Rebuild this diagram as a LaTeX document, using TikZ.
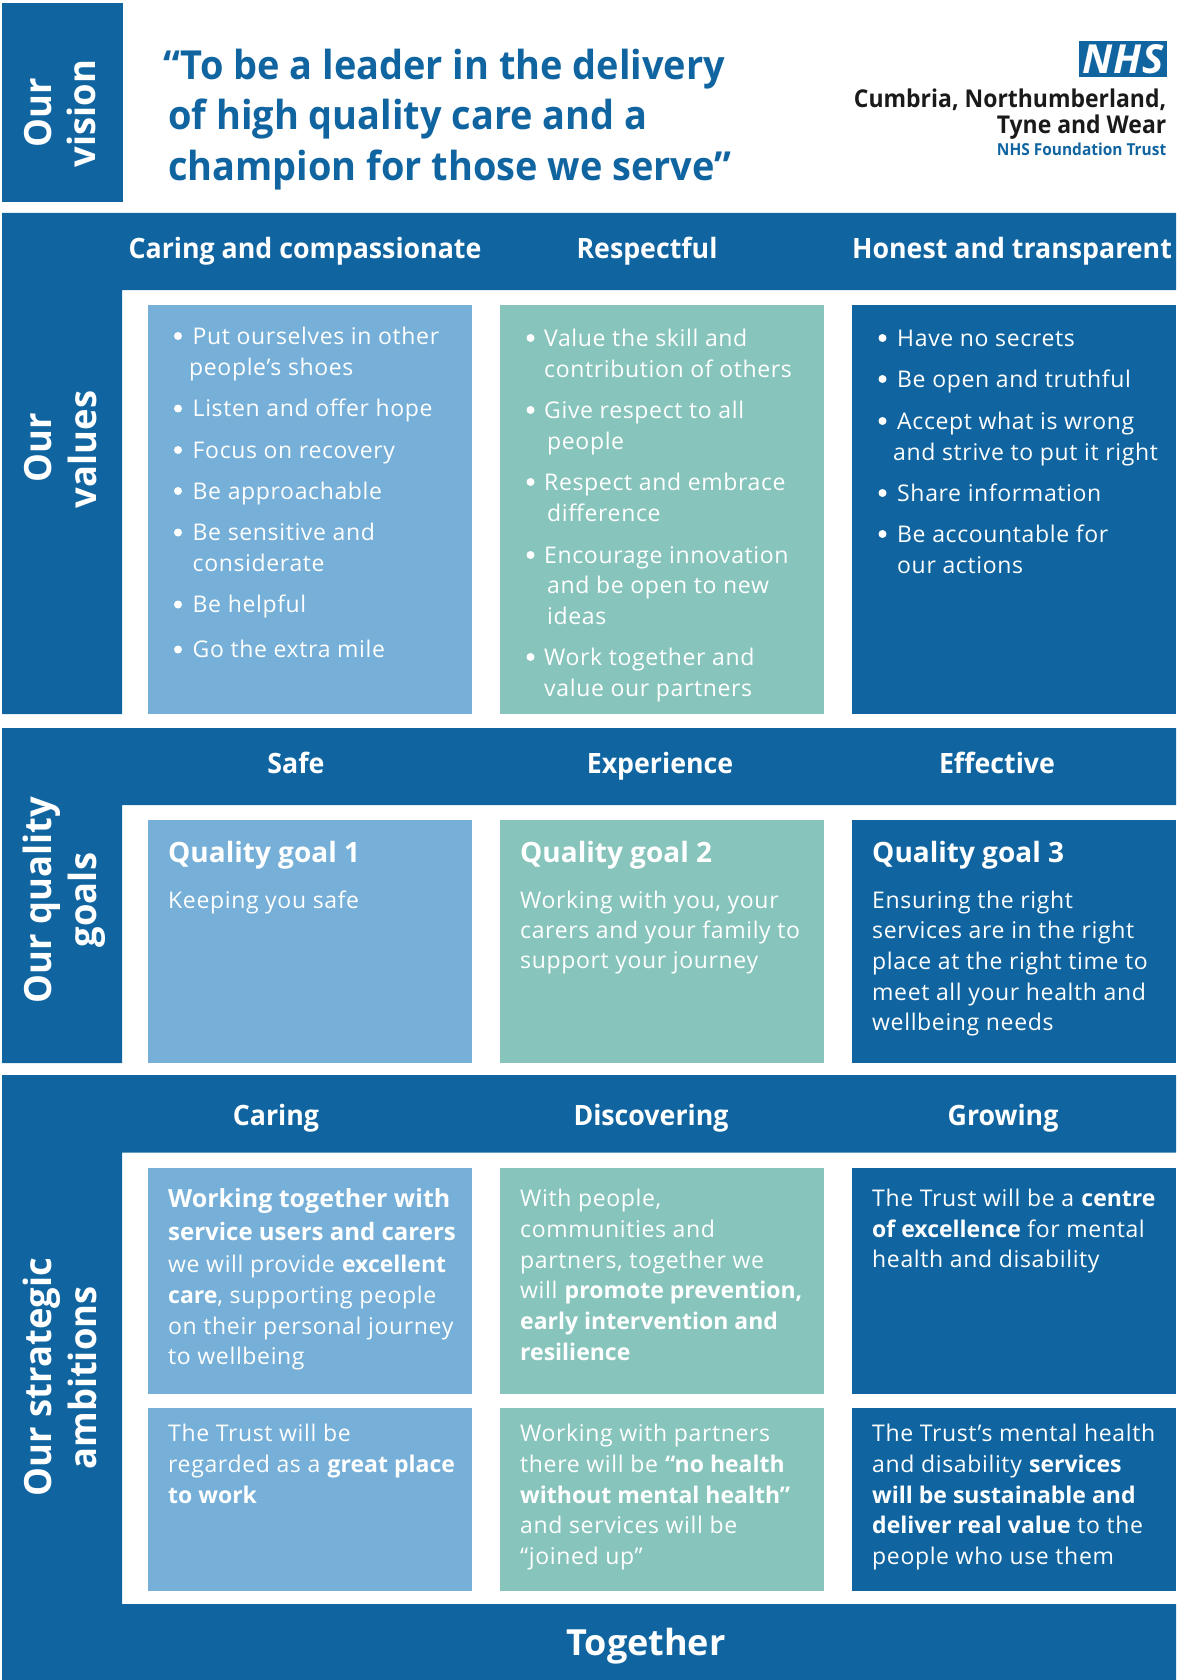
\documentclass[tikz,border=0pt]{standalone}
\usepackage{fontspec}
\setmainfont{Open Sans}[LetterSpace=2.8,BoldFeatures={LetterSpace=0}]
\newfontfamily\medf{Open Sans Bold}[FakeStretch=0.955]
\newfontfamily\medq{Open Sans Bold}[FakeStretch=0.948]
\newfontfamily\medl{Open Sans Bold}[FakeStretch=0.937]
\newfontfamily\medg{Open Sans Bold}
\newfontfamily\wide{Open Sans Bold}[FakeStretch=0.97]
\definecolor{nblue}{HTML}{1065A1}
\definecolor{lblue}{HTML}{76AFD7}
\definecolor{teal2}{HTML}{87C5BC}
\definecolor{ink}{HTML}{1A1A1A}
\newcounter{tl}
\newcommand{\bodysz}{\fontsize{23}{23}\selectfont}
\tikzset{
  body/.style={anchor=base west,inner sep=0pt,text=white,font=\bodysz},
  head/.style={anchor=base,inner sep=0pt,text=white,font=\medf\fontsize{28}{28}\selectfont},
  sidet/.style={anchor=base,inner sep=0pt,text=white,rotate=90,font=\wide\fontsize{37.5}{37.5}\selectfont},
  quote/.style={anchor=base west,inner sep=0pt,text=nblue,font=\medq\fontsize{40}{40}\selectfont},
  goalt/.style={anchor=base west,inner sep=0pt,text=white,font=\medg\fontsize{28}{28}\selectfont},
  dot/.style={circle,fill=white,inner sep=0pt,minimum size=8pt},
  boxa/.style={fill=lblue},
  boxb/.style={fill=teal2},
  boxc/.style={fill=nblue},
  band/.style={fill=nblue}
}
\newcommand{\tl}[3]{\stepcounter{tl}\node[body] (t\arabic{tl}) at (#1,#2) {#3};}
\newcommand{\bu}[3]{\stepcounter{tl}\node[dot] (t\arabic{tl}) at (#1,#2-8) {};}
\begin{document}
\begin{tikzpicture}[x=1pt,y=-1pt]
\useasboundingbox (0,0) rectangle (1176,1680);
% bands
\fill[band] (2,3) rectangle (123,202);
\fill[band] (2,213) -- (1176,213) -- (1176,290) -- (122,290) -- (122,714) -- (2,714) -- cycle;
\fill[band] (2,728) -- (1176,728) -- (1176,805) -- (122,805) -- (122,1063) -- (2,1063) -- cycle;
\fill[band] (2,1075) -- (1176,1075) -- (1176,1152.5) -- (122,1152.5) -- (122,1604) -- (1176,1604) -- (1176,1680) -- (2,1680) -- cycle;
% boxes
\fill[boxa] (148,305) rectangle (471.5,714);
\fill[boxb] (500,305) rectangle (824,714);
\fill[boxc] (852,305) rectangle (1176,714);
\fill[boxa] (148,820) rectangle (471.5,1063);
\fill[boxb] (500,820) rectangle (824,1063);
\fill[boxc] (852,820) rectangle (1176,1063);
\fill[boxa] (148,1168) rectangle (471.5,1394);
\fill[boxb] (500,1168) rectangle (824,1394);
\fill[boxc] (852,1168) rectangle (1176,1394);
\fill[boxa] (148,1408) rectangle (471.5,1591);
\fill[boxb] (500,1408) rectangle (824,1591);
\fill[boxc] (852,1408) rectangle (1176,1591);
% side titles
\node[sidet] (s1) at (51,113) {Our};
\node[sidet] (s2) at (95,113.5) {vision};
\node[sidet] (s3) at (51,448) {Our};
\node[sidet] (s4) at (96,449.5) {values};
\node[sidet] (s5) at (51,900) {Our quality};
\node[sidet] (s6) at (96,900) {goals};
\node[sidet] (s7) at (51,1377) {Our strategic};
\node[sidet] (s8) at (96,1378) {ambitions};
% quote
\node[quote] (q1) at (163,80) {“To be a leader in the delivery};
\node[quote] (q2) at (168,130) {of high quality care and a};
\node[quote] (q3) at (168,181) {champion for those we serve”};
% logo
\node[fill=nblue,minimum width=87.5pt,minimum height=36.5pt,inner sep=0pt,text=white,font=\bfseries\itshape\fontsize{40}{40}\selectfont] (nhs) at (1123,59) {NHS};
\node[anchor=base east,inner sep=0pt,text=ink,font=\medl\fontsize{24.5}{24.5}\selectfont] (l1) at (1166.5,108) {Cumbria, Northumberland,};
\node[anchor=base east,inner sep=0pt,text=ink,font=\medl\fontsize{24.5}{24.5}\selectfont] (l2) at (1166.5,134) {Tyne and Wear};
\node[anchor=base east,inner sep=0pt,text=nblue,font=\medl\fontsize{16.5}{16.5}\selectfont] (l3) at (1166.5,155.5) {NHS Foundation Trust};
% headers
\node[head] (h1) at (305,258.5) {Caring and compassionate};
\node[head] (h2) at (647,258.5) {Respectful};
\node[head] (h3) at (1012,258.5) {Honest and transparent};
\node[head] (h4) at (296,773) {Safe};
\node[head] (h5) at (660,773) {Experience};
\node[head] (h6) at (997,773) {Effective};
\node[head] (h7) at (276,1125) {Caring};
\node[head] (h8) at (651,1125) {Discovering};
\node[head] (h9) at (1003,1125) {Growing};
\node[anchor=base,inner sep=0pt,text=white,font=\medg\fontsize{36}{36}\selectfont] (tog) at (646,1655) {Together};
% values col 1
\bu{178}{344}{} \tl{192.5}{344}{Put ourselves in other}
\tl{189}{375}{people’s shoes}
\bu{178}{416.5}{} \tl{192.5}{416.5}{Listen and offer hope}
\bu{178}{458}{} \tl{192.5}{458}{Focus on recovery}
\bu{178}{499}{} \tl{192.5}{499}{Be approachable}
\bu{178}{540.5}{} \tl{192.5}{540.5}{Be sensitive and}
\tl{192.5}{571.5}{considerate}
\bu{178}{612.5}{} \tl{192.5}{612.5}{Be helpful}
\bu{178}{657.5}{} \tl{192.5}{657.5}{Go the extra mile}
% values col 2
\bu{530.5}{346}{} \tl{544}{346}{Value the skill and}
\tl{544}{377}{contribution of others}
\bu{530.5}{418}{} \tl{544}{418}{Give respect to all}
\tl{547}{449}{people}
\bu{530.5}{490}{} \tl{544}{490}{Respect and embrace}
\tl{547}{521}{difference}
\bu{530.5}{563}{} \tl{544}{563}{Encourage innovation}
\tl{547}{593.5}{and be open to new}
\tl{547}{624}{ideas}
\bu{530.5}{665}{} \tl{544}{665}{Work together and}
\tl{544}{696}{value our partners}
% values col 3
\bu{882.5}{346}{} \tl{897}{346}{Have no secrets}
\bu{882.5}{387}{} \tl{897}{387}{Be open and truthful}
\bu{882.5}{429}{} \tl{897}{429}{Accept what is wrong}
\tl{893}{460}{and strive to put it right}
\bu{882.5}{501}{} \tl{897}{501}{Share information}
\bu{882.5}{542}{} \tl{897}{542}{Be accountable for}
\tl{897}{573}{our actions}
% quality goals
\node[goalt] (g1) at (168,862) {Quality goal 1};
\node[goalt] (g2) at (520,862) {Quality goal 2};
\node[goalt] (g3) at (872,862) {Quality goal 3};
\tl{168}{908.5}{Keeping you safe}
\tl{520}{908.5}{Working with you, your}
\tl{520}{938.5}{carers and your family to}
\tl{520}{968.5}{support your journey}
\tl{872}{908}{Ensuring the right}
\tl{872}{938.5}{services are in the right}
\tl{872}{969}{place at the right time to}
\tl{872}{1000}{meet all your health and}
\tl{872}{1030}{wellbeing needs}
% ambitions row 1
\tl{168}{1207}{\bfseries\fontsize{25}{25}\selectfont Working together with}
\tl{168}{1240}{\bfseries\fontsize{24}{24}\selectfont service users and carers}
\tl{168}{1272}{we will provide \textbf{excellent}}
\tl{168}{1303}{\textbf{care}, supporting people}
\tl{168}{1334}{on their personal journey}
\tl{168}{1364}{to wellbeing}
\tl{520}{1206}{With people,}
\tl{520}{1237}{communities and}
\tl{520}{1268}{partners, together we}
\tl{520}{1298}{will \textbf{promote prevention,}}
\tl{520}{1329}{\textbf{early intervention and}}
\tl{520}{1360}{\textbf{resilience}}
\tl{872}{1206}{The Trust will be a \textbf{centre}}
\tl{872}{1237}{\textbf{of excellence} for mental}
\tl{872}{1267.5}{health and disability}
% ambitions row 2
\tl{168}{1441}{The Trust will be}
\tl{168}{1472}{regarded as a \textbf{great place}}
\tl{168}{1503}{\textbf{to work}}
\tl{520}{1441}{Working with partners}
\tl{520}{1472}{there will be \textbf{“no health}}
\tl{520}{1503}{\textbf{without mental health”}}
\tl{520}{1533}{and services will be}
\tl{520}{1564}{“joined up”}
\tl{872}{1441}{The Trust’s mental health}
\tl{872}{1472}{and disability \textbf{services}}
\tl{872}{1503}{\textbf{will be sustainable and}}
\tl{872}{1533}{\textbf{deliver real value} to the}
\tl{872}{1564}{people who use them}
\end{tikzpicture}
\end{document}
